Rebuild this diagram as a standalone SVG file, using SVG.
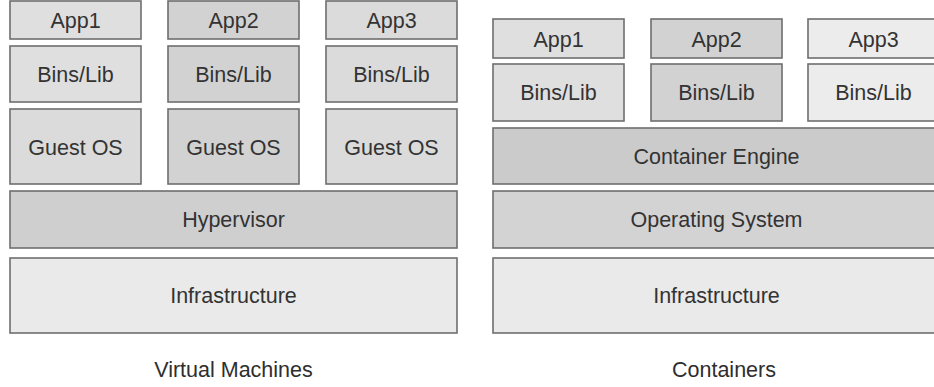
<svg xmlns="http://www.w3.org/2000/svg" width="934" height="387" viewBox="0 0 934 387">
  <style>
    .box { stroke: #6e6e6e; stroke-width: 1.6; }
    .lbl { font-family: "Liberation Sans", Arial, sans-serif; font-size: 21.5px; fill: #333333; text-anchor: middle; }
    .cap { font-family: "Liberation Sans", Arial, sans-serif; font-size: 21.5px; fill: #2e2e2e; text-anchor: middle; }
    .c1 { fill: #dfdfdf; }
    .c2 { fill: #d2d2d2; }
    .c3 { fill: #dbdbdb; }
    .c4 { fill: #ececec; }
    .hv { fill: #cfcfcf; }
    .ce { fill: #cbcbcb; }
    .os { fill: #d3d3d3; }
    .inf { fill: #eaeaea; }
  </style>
  <rect width="934" height="387" fill="#ffffff"/>

  <!-- Virtual machine stack -->
  <g id="vm-app1"><rect class="box c1" x="10" y="1" width="131" height="38"/><text class="lbl" x="75.5" y="28">App1</text></g>
  <g id="vm-app2"><rect class="box c2" x="168" y="1" width="131" height="38"/><text class="lbl" x="233.5" y="28">App2</text></g>
  <g id="vm-app3"><rect class="box c3" x="326" y="1" width="131" height="38"/><text class="lbl" x="391.5" y="28">App3</text></g>

  <g id="vm-bins1"><rect class="box c1" x="10" y="46" width="131" height="56"/><text class="lbl" x="75.5" y="82">Bins/Lib</text></g>
  <g id="vm-bins2"><rect class="box c2" x="168" y="46" width="131" height="56"/><text class="lbl" x="233.5" y="82">Bins/Lib</text></g>
  <g id="vm-bins3"><rect class="box c3" x="326" y="46" width="131" height="56"/><text class="lbl" x="391.5" y="82">Bins/Lib</text></g>

  <g id="vm-guest1"><rect class="box c3" x="10" y="109" width="131" height="75"/><text class="lbl" x="75.5" y="154.5">Guest OS</text></g>
  <g id="vm-guest2"><rect class="box c2" x="168" y="109" width="131" height="75"/><text class="lbl" x="233.5" y="154.5">Guest OS</text></g>
  <g id="vm-guest3"><rect class="box c3" x="326" y="109" width="131" height="75"/><text class="lbl" x="391.5" y="154.5">Guest OS</text></g>

  <g id="vm-hypervisor"><rect class="box hv" x="10" y="191" width="447" height="57"/><text class="lbl" x="233.5" y="227">Hypervisor</text></g>
  <g id="vm-infra"><rect class="box inf" x="10" y="258" width="447" height="75"/><text class="lbl" x="233.5" y="303">Infrastructure</text></g>
  <g id="vm-caption"><text class="cap" x="233.5" y="377">Virtual Machines</text></g>

  <!-- Container stack (runs off the right edge) -->
  <g id="ct-app1"><rect class="box c1" x="493" y="19" width="131" height="39"/><text class="lbl" x="558.5" y="46.5">App1</text></g>
  <g id="ct-app2"><rect class="box c2" x="651" y="19" width="131" height="39"/><text class="lbl" x="716.5" y="46.5">App2</text></g>
  <g id="ct-app3"><rect class="box c4" x="808" y="19" width="131" height="39"/><text class="lbl" x="873.5" y="46.5">App3</text></g>

  <g id="ct-bins1"><rect class="box c1" x="493" y="64" width="131" height="57"/><text class="lbl" x="558.5" y="100">Bins/Lib</text></g>
  <g id="ct-bins2"><rect class="box c2" x="651" y="64" width="131" height="57"/><text class="lbl" x="716.5" y="100">Bins/Lib</text></g>
  <g id="ct-bins3"><rect class="box c4" x="808" y="64" width="131" height="57"/><text class="lbl" x="873.5" y="100">Bins/Lib</text></g>

  <g id="ct-engine"><rect class="box ce" x="493" y="128" width="447" height="56"/><text class="lbl" x="716.5" y="164">Container Engine</text></g>
  <g id="ct-os"><rect class="box os" x="493" y="191" width="447" height="57"/><text class="lbl" x="716.5" y="227">Operating System</text></g>
  <g id="ct-infra"><rect class="box inf" x="493" y="258" width="447" height="75"/><text class="lbl" x="716.5" y="303">Infrastructure</text></g>
  <g id="ct-caption"><text class="cap" x="724" y="377">Containers</text></g>
</svg>
